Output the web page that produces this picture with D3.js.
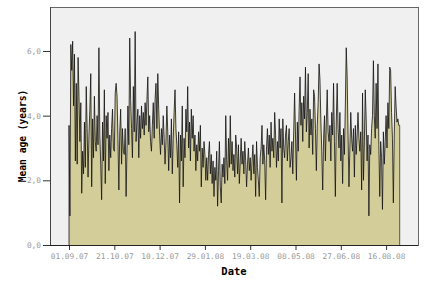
<!DOCTYPE html>
<html>
<head>
<meta charset="utf-8">
<script src="https://cdn.jsdelivr.net/npm/d3@7"></script>
<style>
  body { margin: 0; background: #fff; }
  svg { display: block; }
</style>
</head>
<body>
<script>
    var w = 427;
    var h = 286;

    // first day of the series, one value per day
    var startDate = "01.09.07";

    // mean age (years), Sep 2007 .. Aug 2008, month by month
    var sep07 = [3.7, 0.9, 6.2, 5.4, 6.3, 4.3, 5.9, 2.6, 5.0, 2.5, 5.8, 4.6, 3.2, 4.4, 1.6, 2.9, 2.2, 3.8, 2.4, 4.9,
                 3.6, 2.1, 3.4, 4.2, 5.3, 1.8, 3.9, 2.7, 4.6, 3.2];
    var oct07 = [2.9, 4.0, 3.1, 6.1, 3.4, 2.5, 1.4, 3.8, 2.6, 4.8, 1.9, 4.0, 3.3, 4.1, 2.3, 3.4, 2.7, 3.6, 4.2, 3.0,
                 2.9, 4.7, 5.0, 4.6, 3.3, 1.7, 3.5, 4.2, 2.5, 3.6, 2.9];
    var nov07 = [2.8, 3.6, 1.5, 3.0, 4.3, 3.1, 6.4, 4.5, 3.6, 2.7, 4.9, 3.5, 6.6, 3.2, 3.8, 4.2, 2.7, 4.0, 3.3, 4.3,
                 3.6, 4.1, 3.4, 4.4, 3.7, 4.5, 5.2, 3.5, 4.0, 3.2];
    var dec07 = [2.9, 3.7, 4.4, 3.3, 4.5, 5.0, 3.6, 5.3, 4.2, 3.4, 2.8, 3.6, 3.1, 4.0, 3.3, 2.5, 3.2, 4.3, 3.5, 2.3,
                 3.4, 2.7, 3.9, 2.2, 3.3, 4.1, 4.8, 3.6, 3.1, 2.4, 3.5];
    var jan08 = [1.3, 3.4, 2.6, 4.3, 1.8, 3.3, 2.7, 4.2, 3.5, 4.9, 3.0, 3.8, 2.6, 4.2, 3.3, 4.0, 2.9, 3.4, 2.3, 3.1,
                 2.6, 3.5, 2.9, 3.7, 1.8, 3.0, 2.4, 3.2, 2.8, 2.0, 2.7];
    var feb08 = [2.0, 2.8, 3.2, 2.2, 2.8, 1.9, 2.6, 1.5, 2.4, 2.0, 2.9, 1.2, 2.3, 3.2, 1.8, 1.3, 2.5, 2.1, 2.7, 1.9,
                 4.0, 2.6, 2.0, 3.3, 2.4, 4.0, 2.5, 3.2, 2.3];
    var mar08 = [2.8, 2.1, 3.4, 3.0, 2.2, 3.1, 1.9, 2.6, 3.3, 2.5, 2.9, 2.2, 3.2, 2.6, 1.8, 2.5, 3.0, 2.3, 2.7, 2.0,
                 2.6, 3.1, 2.2, 2.8, 1.5, 3.2, 2.4, 2.0, 1.5, 2.7, 3.0];
    var apr08 = [3.7, 2.5, 3.1, 2.6, 1.4, 3.0, 3.6, 2.8, 3.4, 2.4, 3.8, 2.9, 3.3, 2.7, 4.1, 3.4, 2.4, 3.2, 2.6, 3.9,
                 3.0, 3.6, 1.3, 3.9, 3.0, 2.7, 3.4, 3.7, 2.6, 3.2];
    var may08 = [3.6, 2.4, 2.7, 3.2, 2.2, 3.5, 4.7, 3.4, 2.0, 3.8, 2.9, 4.2, 5.2, 3.7, 4.4, 3.2, 4.6, 3.9, 5.5, 3.5,
                 4.1, 5.3, 3.0, 4.2, 3.4, 3.9, 2.8, 4.8, 4.6, 3.6, 2.3];
    var jun08 = [3.7, 4.4, 5.6, 5.1, 3.8, 2.9, 1.7, 3.3, 4.0, 2.6, 3.8, 4.8, 3.5, 3.2, 3.7, 2.6, 4.1, 3.4, 5.0, 3.2,
                 1.5, 3.8, 5.0, 3.6, 3.0, 4.1, 2.6, 3.4, 1.9, 3.6];
    var jul08 = [2.8, 4.3, 6.1, 5.2, 3.4, 1.8, 3.0, 4.1, 3.3, 2.9, 3.6, 2.1, 3.7, 2.8, 3.4, 4.1, 3.3, 2.9, 3.5, 1.7,
                 4.7, 2.0, 3.2, 4.8, 3.9, 2.6, 3.4, 0.9, 3.1, 2.8, 3.6];
    var aug08 = [4.0, 5.7, 4.0, 3.3, 5.0, 3.6, 5.6, 3.1, 1.5, 3.2, 2.7, 1.1, 3.5, 2.5, 3.2, 4.0, 3.0, 4.4, 3.6, 5.5,
                 5.4, 4.1, 3.3, 1.3, 3.4, 4.9, 4.3, 3.8, 3.9, 3.7, 3.7];

    var xTickLabels = ["01.09.07", "21.10.07", "10.12.07", "29.01.08", "19.03.08", "08.05.08", "27.06.08", "16.08.08"];
    var yTicks = [0, 2, 4, 6];

    var parse = d3.utcParse("%d.%m.%y");
    var day0 = parse(startDate);

    var values = [].concat(sep07, oct07, nov07, dec07, jan08, feb08, mar08, apr08, may08, jun08, jul08, aug08);
    var data = values.map(function(v, i) {
        return { date: d3.utcDay.offset(day0, i), value: v };
    });

    // plot frame
    var plotL = 50, plotR = 418, plotT = 7, plotB = 245;

    var svg = d3.select("body")
                .append("svg")
                .attr("width", w)
                .attr("height", h);

    var x = d3.scaleUtc()
              .domain([d3.utcDay.offset(day0, -21), d3.utcHour.offset(day0, Math.round(385.2 * 24))])
              .range([plotL, plotR]);

    var y = d3.scaleLinear()
              .domain([0, 7.36])
              .range([plotB, plotT]);

    svg.append("rect")
       .attr("x", plotL)
       .attr("y", plotT)
       .attr("width", plotR - plotL)
       .attr("height", plotB - plotT)
       .attr("fill", "#f0f0f0")
       .attr("stroke", "#666")
       .attr("stroke-width", 1)
       .attr("shape-rendering", "crispEdges");

    var area = d3.area()
                 .x(d => x(d.date))
                 .y0(y(0))
                 .y1(d => y(d.value));

    var line = d3.line()
                 .x(d => x(d.date))
                 .y(d => y(d.value));

    svg.append("path")
       .datum(data)
       .attr("d", area)
       .attr("fill", "#d3cd9a");

    svg.append("path")
       .datum(data)
       .attr("d", line)
       .attr("fill", "none")
       .attr("stroke", "#111")
       .attr("stroke-width", 0.8)
       .attr("stroke-linejoin", "miter");

    // left and right edges of the filled area
    svg.append("line")
       .attr("x1", x(day0)).attr("x2", x(day0))
       .attr("y1", y(0)).attr("y2", y(values[0]))
       .attr("stroke", "#111")
       .attr("stroke-width", 0.8);

    svg.append("line")
       .attr("x1", x(data[data.length - 1].date)).attr("x2", x(data[data.length - 1].date))
       .attr("y1", y(0)).attr("y2", y(values[values.length - 1]))
       .attr("stroke", "#333")
       .attr("stroke-width", 0.8);

    // axes
    var xAxis = d3.axisBottom(x)
                  .tickValues(xTickLabels.map(parse))
                  .tickFormat(d3.utcFormat("%d.%m.%y"))
                  .tickSize(5)
                  .tickPadding(3);

    var gx = svg.append("g")
                .attr("transform", "translate(0," + plotB + ")")
                .call(xAxis);

    var yAxis = d3.axisLeft(y)
                  .tickValues(yTicks)
                  .tickFormat(d => d3.format(".1f")(d).replace(".", ","))
                  .tickSize(7)
                  .tickPadding(2);

    var gy = svg.append("g")
                .attr("transform", "translate(" + plotL + ",0)")
                .call(yAxis);

    [gx, gy].forEach(function(g) {
        g.select(".domain").remove();
        g.selectAll(".tick line").attr("stroke", "#333");
        g.selectAll(".tick text")
         .attr("fill", "#9a9a9a")
         .style("font-family", "'DejaVu Sans Mono', monospace")
         .style("font-size", "7.8px");
    });

    svg.append("line")
       .attr("x1", plotL).attr("x2", plotR)
       .attr("y1", plotB).attr("y2", plotB)
       .attr("stroke", "#222")
       .attr("shape-rendering", "crispEdges");

    svg.append("line")
       .attr("x1", plotL).attr("x2", plotL)
       .attr("y1", plotT).attr("y2", plotB)
       .attr("stroke", "#444")
       .attr("shape-rendering", "crispEdges");

    // axis titles
    svg.append("text")
       .attr("x", (plotL + plotR) / 2)
       .attr("y", 275)
       .attr("text-anchor", "middle")
       .style("font-family", "'DejaVu Sans Mono', monospace")
       .style("font-weight", "bold")
       .style("font-size", "10.5px")
       .text("Date");

    svg.append("text")
       .attr("transform", "translate(26,136) rotate(-90)")
       .attr("text-anchor", "middle")
       .style("font-family", "'DejaVu Sans Mono', monospace")
       .style("font-weight", "bold")
       .style("font-size", "9.6px")
       .text("Mean age (years)");
</script>
</body>
</html>
